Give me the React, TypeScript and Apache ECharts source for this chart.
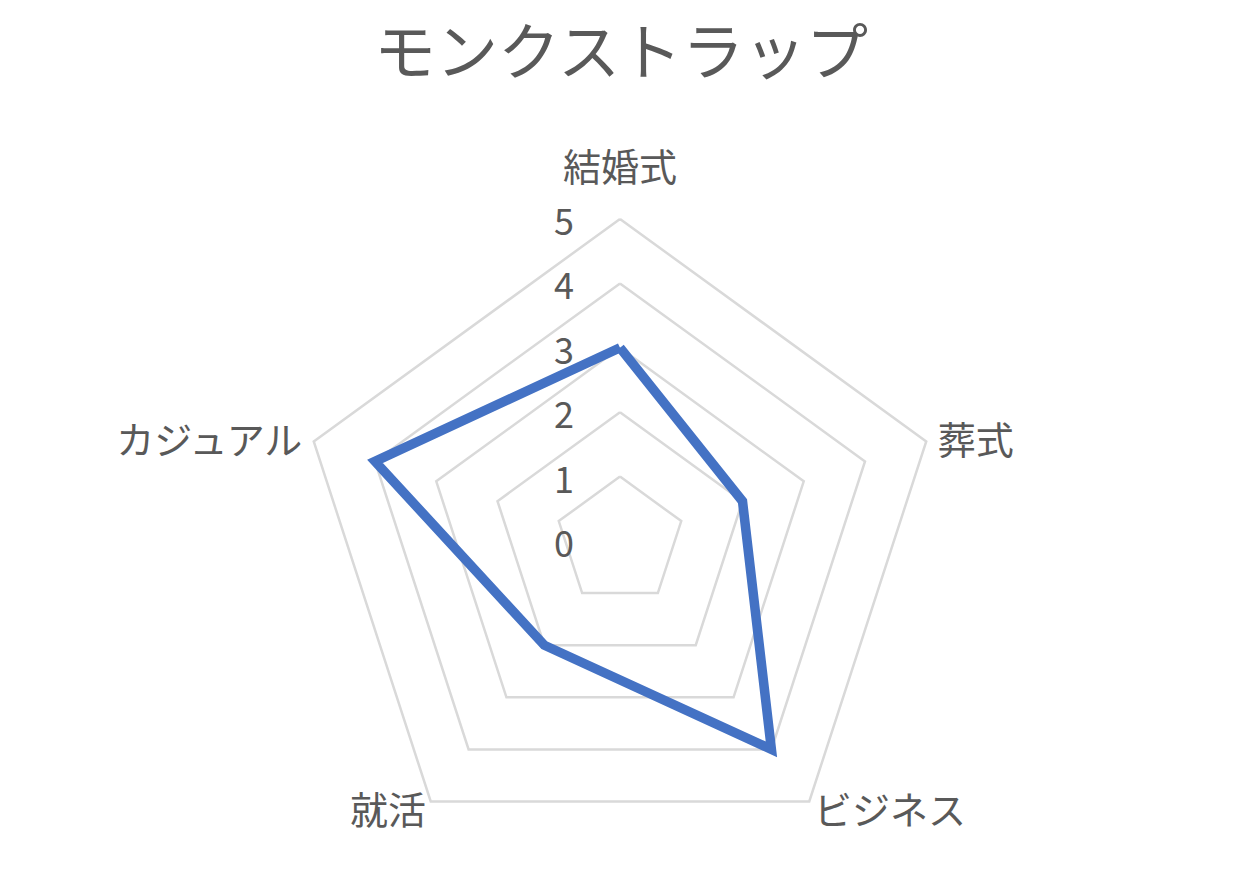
import React, { useEffect, useRef } from "react";
import * as echarts from "echarts";

const titleText = "モンクストラップ";
// ECharts lays radar indicators out counter-clockwise from the top
const categories = ["結婚式", "カジュアル", "就活", "ビジネス", "葬式"];
const values = [3, 4, 2, 4, 2];
const maxValue = 5;
const nameGaps = [36, 12, 8, 8, 12];

const FONT = "'Noto Sans CJK JP', 'Noto Sans', sans-serif";
const TEXT_COLOR = "#595959";

const MonkStrapRadar: React.FC = () => {
  const chartRef = useRef<HTMLDivElement | null>(null);

  useEffect(() => {
    document.body.style.margin = "0";
    if (!chartRef.current) return;
    const chart = echarts.init(chartRef.current, undefined, { renderer: "svg" });

    const option = {
      animation: false,
      backgroundColor: "#ffffff",
      title: {
        text: titleText,
        left: "center",
        top: 12,
        textStyle: {
          fontFamily: FONT,
          fontSize: 62,
          fontWeight: "normal",
          color: TEXT_COLOR,
        },
      },
      radar: {
        center: [620, 541],
        radius: 322,
        shape: "polygon",
        splitNumber: 5,
        startAngle: 90,
        nameGap: 12,
        axisName: {
          color: TEXT_COLOR,
          fontFamily: FONT,
          fontSize: 38,
        },
        indicator: categories.map((name, i) => ({
          name,
          min: 0,
          max: maxValue,
          nameGap: nameGaps[i],
          ...(i === 0
            ? {
                axisLabel: {
                  show: true,
                  color: TEXT_COLOR,
                  fontFamily: FONT,
                  fontSize: 36,
                  margin: 46,
                },
              }
            : {}),
        })),
        axisLine: { show: false },
        axisTick: { show: false },
        axisLabel: { show: false },
        splitArea: { show: false },
        splitLine: {
          lineStyle: { color: "#D9D9D9", width: 2.5 },
        },
      },
      series: [
        {
          type: "radar",
          symbol: "none",
          data: [
            {
              value: values,
              name: titleText,
              lineStyle: { color: "#4472C4", width: 9.5, join: "miter" },
              itemStyle: { color: "#4472C4" },
            },
          ],
        },
      ],
    };

    chart.setOption(option);

    const handleResize = () => chart.resize();
    window.addEventListener("resize", handleResize);
    return () => {
      window.removeEventListener("resize", handleResize);
      chart.dispose();
    };
  }, []);

  return <div ref={chartRef} style={{ width: "100vw", height: "100vh" }} />;
};

export default MonkStrapRadar;
